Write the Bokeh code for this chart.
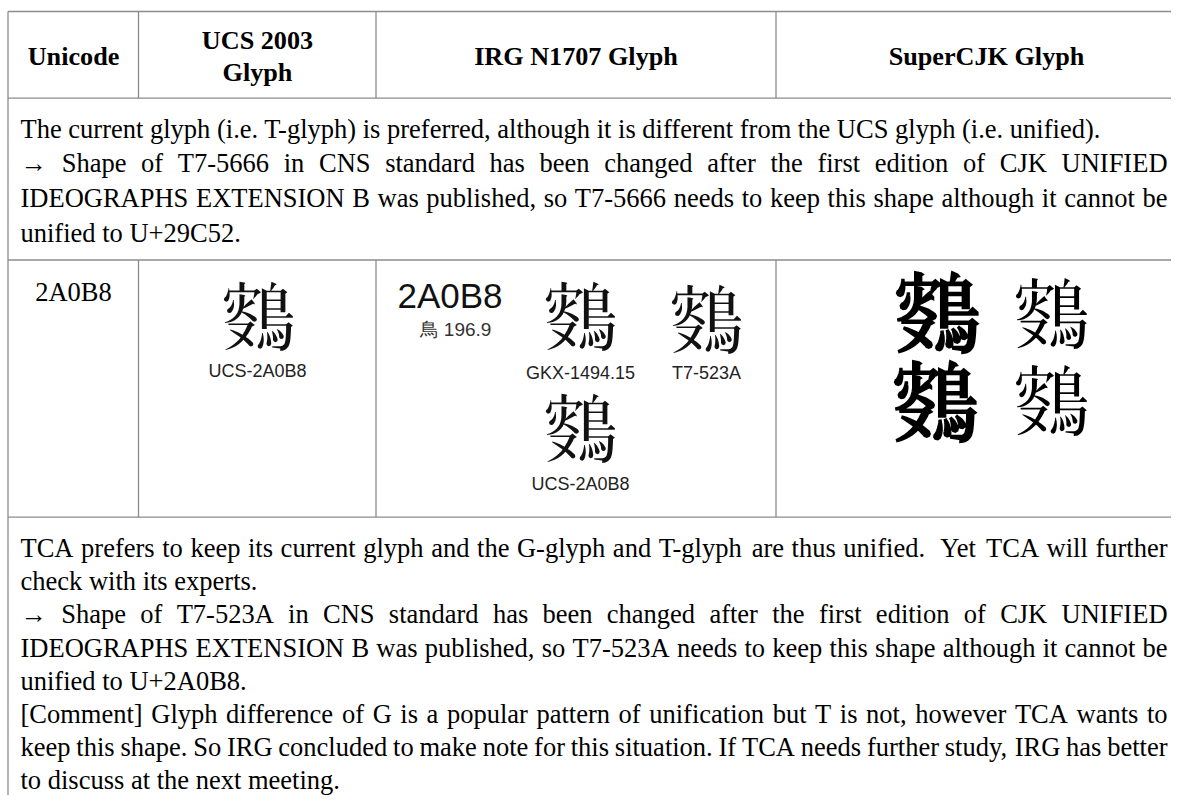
from bokeh.plotting import figure
from bokeh.models import Range1d
from bokeh.core.properties import value
from bokeh.embed import file_html
from bokeh.resources import INLINE

# ---------------- content ----------------
HEADER_TOP = ["Unicode", "UCS 2003", "IRG N1707 Glyph", "SuperCJK Glyph"]
HEADER_SUB = ["", "Glyph", "", ""]
CODEPOINT = "2A0B8"
GLYPH = "\U0002A0B8"
UCS_LABEL = "UCS-2A0B8"
IRG_CODE = "2A0B8"
IRG_RADICAL = "鳥 196.9"
IRG_SOURCES = ["GKX-1494.15", "T7-523A", "UCS-2A0B8"]
SUPER_WEIGHTS = ["bold", "normal", "bold", "normal"]

NOTE1 = [
    "The current glyph (i.e. T-glyph) is preferred, although it is different from the UCS glyph (i.e. unified).",
    "\u2192 Shape of T7-5666 in CNS standard has been changed after the first edition of CJK UNIFIED",
    "IDEOGRAPHS EXTENSION B was published, so T7-5666 needs to keep this shape although it cannot be",
    "unified to U+29C52.",
]
NOTE1_JUSTIFY = [False, True, True, False]

NOTE2 = [
    "TCA prefers to keep its current glyph and the G-glyph and T-glyph are thus unified.  Yet TCA will further",
    "check with its experts.",
    "\u2192 Shape of T7-523A in CNS standard has been changed after the first edition of CJK UNIFIED",
    "IDEOGRAPHS EXTENSION B was published, so T7-523A needs to keep this shape although it cannot be",
    "unified to U+2A0B8.",
    "[Comment] Glyph difference of G is a popular pattern of unification but T is not, however TCA wants to",
    "keep this shape. So IRG concluded to make note for this situation. If TCA needs further study, IRG has better",
    "to discuss at the next meeting.",
]
NOTE2_JUSTIFY = [True, False, True, True, False, True, True, False]

# ---------------- layout (picture pixels) ----------------
W, H = 1171, 795
COL_X = [7.5, 138.0, 375.5, 775.5]
ROW_Y = [11.0, 97.7, 259.5, 516.7]

BODY_SIZE = 26.5
BODY_FONT = "Liberation Serif"
TEXT_L, TEXT_R = 20.0, 1167.0
NOTE1_Y0, NOTE1_STEP = 128.0, 34.8
NOTE2_Y0, NOTE2_STEP = 547.5, 33.2

TIMES = {' ': 250, '!': 333, '(': 333, ')': 333, ',': 250, '-': 333, '.': 250, '+': 564,
         '[': 333, ']': 333, ':': 278, '\u2192': 1000}
for d in "0123456789":
    TIMES[d] = 500
TIMES.update(dict(zip("ABCDEFGHIJKLMNOPQRSTUVWXYZ",
                      [722, 667, 667, 722, 611, 556, 722, 722, 333, 389, 722, 611, 889, 722, 722,
                       556, 722, 667, 556, 611, 722, 722, 944, 722, 722, 611])))
TIMES.update(dict(zip("abcdefghijklmnopqrstuvwxyz",
                      [444, 500, 444, 500, 444, 333, 500, 500, 278, 278, 500, 278, 778, 500, 500,
                       500, 500, 333, 389, 278, 500, 500, 722, 500, 500, 444])))


def width(s, size):
    return sum(TIMES.get(c, 500) for c in s) / 1000.0 * size


def layout_lines(lines, justify, y0, step):
    xs, ys, ts = [], [], []
    for i, (line, jf) in enumerate(zip(lines, justify)):
        yc = y0 + i * step
        if not jf:
            xs.append(TEXT_L); ys.append(yc); ts.append(line)
            continue
        words = line.split(" ")
        ws = [width(w, BODY_SIZE) for w in words]
        gap = (TEXT_R - TEXT_L - sum(ws)) / (len(words) - 1)
        x = TEXT_L
        for w, wd in zip(words, ws):
            if w:
                xs.append(x); ys.append(yc); ts.append(w)
            x += wd + gap
    return xs, ys, ts


p = figure(width=W, height=H, output_backend="svg", toolbar_location=None,
           x_range=Range1d(0, W), y_range=Range1d(H, 0),
           min_border=0, outline_line_color=None, background_fill_color="white",
           border_fill_color="white")
p.axis.visible = False
p.xgrid.visible = False
p.ygrid.visible = False

# ---------------- grid lines ----------------
sx0, sy0, sx1, sy1 = [], [], [], []
for y in ROW_Y:
    sx0.append(COL_X[0]); sx1.append(W); sy0.append(y); sy1.append(y)
sx0.append(COL_X[0]); sx1.append(COL_X[0]); sy0.append(ROW_Y[0]); sy1.append(H)
for x in COL_X[1:]:
    for a, b in [(ROW_Y[0], ROW_Y[1]), (ROW_Y[2], ROW_Y[3])]:
        sx0.append(x); sx1.append(x); sy0.append(a); sy1.append(b)
p.segment(x0=sx0, y0=sy0, x1=sx1, y1=sy1, line_color="#8c8c8c", line_width=1.3)

# ---------------- header ----------------
HEAD_CX = [73.0, 257.0, 575.5, 986.0]
hx, hy, ht = [], [], []
for cx, top, sub in zip(HEAD_CX, HEADER_TOP, HEADER_SUB):
    if sub:
        hx += [cx, cx]; hy += [39.5, 72.0]; ht += [top, sub]
    else:
        hx.append(cx); hy.append(56.0); ht.append(top)
p.text(x=hx, y=hy, text=ht, text_font=value(BODY_FONT), text_font_size=f"{BODY_SIZE - 0.3}px",
       text_font_style="bold", text_align="center", text_baseline="middle", text_color="black")

# ---------------- notes ----------------
for lines, jf, y0, st in [(NOTE1, NOTE1_JUSTIFY, NOTE1_Y0, NOTE1_STEP),
                          (NOTE2, NOTE2_JUSTIFY, NOTE2_Y0, NOTE2_STEP)]:
    xs, ys, ts = layout_lines(lines, jf, y0, st)
    p.text(x=xs, y=ys, text=ts, text_font=value(BODY_FONT), text_font_size=f"{BODY_SIZE}px",
           text_align="left", text_baseline="middle", text_color="black")

# ---------------- glyph row ----------------
p.text(x=[73.0], y=[291.0], text=[CODEPOINT], text_font=value(BODY_FONT),
       text_font_size=f"{BODY_SIZE}px", text_align="center", text_baseline="middle",
       text_color="black")

# reference glyphs (UCS column, IRG column)
gx = [258.5, 580.0, 706.0, 580.0]
gy = [312.0, 312.0, 315.0, 424.0]
p.text(x=gx, y=gy, text=[GLYPH] * 4, text_font=value("Noto Sans CJK TC"), text_font_size="76px",
       text_align="center", text_baseline="middle", text_color="#111111")

# SuperCJK glyphs
sxs = [937.0, 1051.0, 935.0, 1051.0]
sys_ = [308.0, 309.0, 397.0, 396.0]
for x, y, wgt in zip(sxs, sys_, SUPER_WEIGHTS):
    p.text(x=[x], y=[y], text=[GLYPH], text_font=value("Noto Sans CJK TC"),
           text_font_size="88px" if wgt == "bold" else "78px", text_font_style=wgt,
           text_align="center", text_baseline="middle", text_color="black")

# source labels
SANS = "Liberation Sans"
p.text(x=[257.0, 580.0, 706.0, 580.0], y=[370.0, 372.0, 372.0, 483.0],
       text=[UCS_LABEL] + IRG_SOURCES, text_font=value(SANS), text_font_size="18px",
       text_align="center", text_baseline="middle", text_color="#222222")
p.text(x=[449.5], y=[295.0], text=[IRG_CODE], text_font=value(SANS), text_font_size="35px",
       text_align="center", text_baseline="middle", text_color="#111111")
p.text(x=[455.0], y=[329.0], text=[IRG_RADICAL], text_font=value(SANS), text_font_size="19px",
       text_align="center", text_baseline="middle", text_color="#333333")

open("out.html", "w").write(file_html(p, INLINE))
